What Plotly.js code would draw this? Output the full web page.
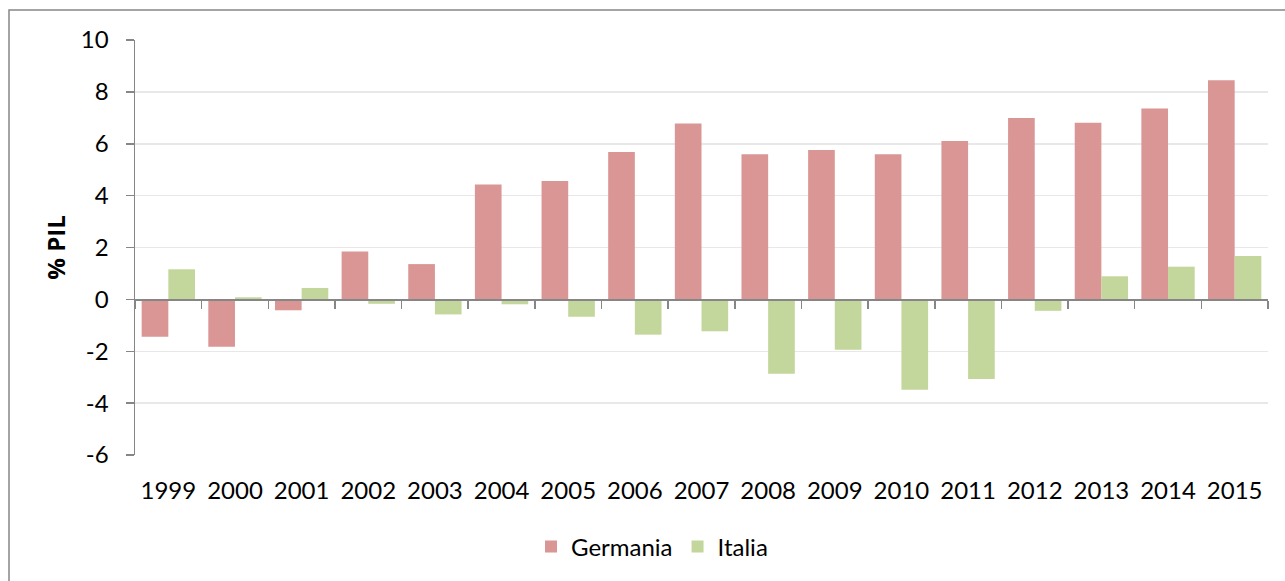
<!DOCTYPE html>
<html>
<head>
<meta charset="utf-8">
<script src="https://cdn.plot.ly/plotly-3.0.1.min.js"></script>
<style>
  html, body { margin: 0; padding: 0; overflow: hidden; background: #ffffff; }
  #chart { width: 1285px; height: 581px; }
</style>
</head>
<body>
<div id="chart"></div>
<script>
// Saldo delle partite correnti, % del PIL
const years = ['1999','2000','2001','2002','2003','2004','2005','2006','2007','2008','2009','2010','2011','2012','2013','2014','2015'];
const germania = [-1.44, -1.83, -0.42, 1.85, 1.36, 4.43, 4.56, 5.68, 6.78, 5.60, 5.76, 5.60, 6.11, 6.99, 6.81, 7.36, 8.45];
const italia = [1.16, 0.08, 0.44, -0.17, -0.58, -0.19, -0.67, -1.36, -1.23, -2.87, -1.94, -3.48, -3.07, -0.44, 0.89, 1.26, 1.67];
const yTickVals = [-6, -4, -2, 0, 2, 4, 6, 8, 10];
const yTickText = ['-6', '-4', '-2', '0', '2', '4', '6', '8', '10'];
const yTitle = '% PIL';
const yMin = -6, yMax = 10;

const FONT = 'Lato, "Open Sans", sans-serif';
const TITLE_FONT = '"Open Sans", Lato, sans-serif';
const FS = 24;
const AXIS_GREY = '#868686';

const traces = [
  { type: 'bar', name: 'Germania', x: years, y: germania,
    marker: { color: '#d99694' }, hoverinfo: 'x+y+name' },
  { type: 'bar', name: 'Italia', x: years, y: italia,
    marker: { color: '#c3d69b' }, hoverinfo: 'x+y+name' }
];

const ml = 135, mr = 17, mt = 40, mb = 126;
const W = 1285, H = 581;
const pw = W - ml - mr, ph = H - mt - mb;

const layout = {
  width: W, height: H,
  margin: { l: ml, r: mr, t: mt, b: mb, pad: 0 },
  paper_bgcolor: '#ffffff', plot_bgcolor: '#ffffff',
  font: { family: FONT, size: FS, color: '#000000' },
  barmode: 'group', bargap: 0.2, bargroupgap: 0,
  showlegend: true,
  legend: {
    orientation: 'h', xanchor: 'center', yanchor: 'middle',
    x: (652 - ml) / pw, y: (mt + ph - 547) / ph,
    font: { family: FONT, size: FS, color: '#000000' },
    itemwidth: 30, tracegroupgap: 0
  },
  xaxis: {
    type: 'category',
    anchor: 'free',
    position: (0 - yMin) / (yMax - yMin),
    showline: true, linecolor: AXIS_GREY, linewidth: 1.5,
    ticks: 'outside', tickson: 'boundaries', ticklen: 8, tickwidth: 1.5, tickcolor: AXIS_GREY,
    ticklabelstandoff: 169,
    tickfont: { family: FONT, size: FS, color: '#000000' },
    showgrid: false, zeroline: false, fixedrange: true
  },
  yaxis: {
    range: [yMin, yMax],
    tickmode: 'array', tickvals: yTickVals, ticktext: yTickText,
    showline: true, linecolor: AXIS_GREY, linewidth: 1.5,
    ticks: 'outside', ticklen: 8, tickwidth: 1.5, tickcolor: AXIS_GREY,
    ticklabelstandoff: 12,
    tickfont: { family: FONT, size: FS, color: '#000000' },
    showgrid: true, gridcolor: '#e8e8e8', gridwidth: 1.5,
    zeroline: false, fixedrange: true,
    title: { text: '<b>' + yTitle + '</b>', standoff: 8,
             font: { family: TITLE_FONT, size: 24, color: '#000000' } }
  },
  shapes: [
    // outer chart frame (left and top edges visible)
    { type: 'rect', xref: 'paper', yref: 'paper',
      x0: (9 - ml) / pw, x1: (W + 20 - ml) / pw,
      y0: (mt + ph - (H + 20)) / ph, y1: (mt + ph - 10) / ph,
      line: { color: AXIS_GREY, width: 1.5 }, fillcolor: 'rgba(0,0,0,0)', layer: 'below' }
  ]
};

Plotly.newPlot('chart', traces, layout, { displayModeBar: false, staticPlot: true });
</script>
</body>
</html>
